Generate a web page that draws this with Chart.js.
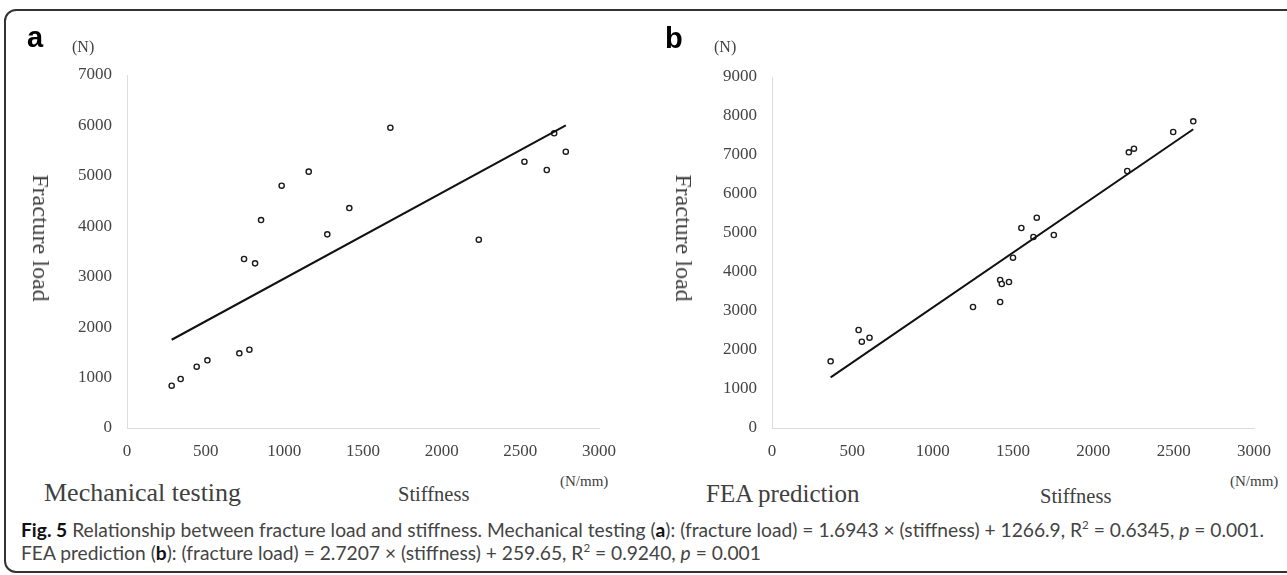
<!DOCTYPE html>
<html>
<head>
<meta charset="utf-8">
<script src="https://cdn.jsdelivr.net/npm/chart.js@4.4.1/dist/chart.umd.min.js"></script>
<style>
  html, body { margin: 0; padding: 0; background: #fff; }
  #page { position: relative; width: 1287px; height: 575px; overflow: hidden; background: #fff; }
  .frame { position: absolute; left: 4px; top: 9px; width: 1330px; height: 564px; border: 2px solid #333; border-radius: 12px; box-sizing: border-box; }
  canvas { position: absolute; top: 0; }
  .t { position: absolute; white-space: nowrap; line-height: 1; font-family: "Liberation Serif", "Times New Roman", serif; color: #404040; }
  .panel { font-family: "Liberation Sans", Arial, sans-serif; font-weight: bold; color: #000; font-size: 29px; }
  .rot { transform: translate(-50%, -50%) rotate(90deg); }
  .cap { position: absolute; left: 21px; white-space: nowrap; line-height: 1; font-family: Lato, "Open Sans", sans-serif; font-size: 18.5px; color: #444; transform-origin: left center; }
  .cap b { color: #111; }
  .cap sup { font-size: 0.6em; vertical-align: 0; position: relative; top: -0.75em; }
</style>
</head>
<body>
<div id="page">
  <div class="frame"></div>
  <canvas id="chartA" width="640" height="470" style="left:0"></canvas>
  <canvas id="chartB" width="647" height="470" style="left:640px"></canvas>

  <div class="t panel" style="left:27px; top:23px">a</div>
  <div class="t" style="left:72px; top:39px; font-size:16px">(N)</div>
  <div class="t rot" style="left:41px; top:238px; font-size:24px">Fracture load</div>
  <div class="t" style="left:44px; top:480px; font-size:26px">Mechanical testing</div>
  <div class="t" style="left:398px; top:484px; font-size:20.5px">Stiffness</div>
  <div class="t" style="left:560px; top:474px; font-size:15px">(N/mm)</div>

  <div class="t panel" style="left:665px; top:24px">b</div>
  <div class="t" style="left:714px; top:39px; font-size:16px">(N)</div>
  <div class="t rot" style="left:684px; top:238px; font-size:24px">Fracture load</div>
  <div class="t" style="left:706px; top:481px; font-size:25px">FEA prediction</div>
  <div class="t" style="left:1040px; top:486px; font-size:20.5px">Stiffness</div>
  <div class="t" style="left:1230px; top:474px; font-size:15px">(N/mm)</div>

  <div class="cap" id="cap1" style="top:521px"><b>Fig. 5</b> Relationship between fracture load and stiffness. Mechanical testing (<b>a</b>): (fracture load) = 1.6943 × (stiffness) + 1266.9, R<sup>2</sup> = 0.6345, <i>p</i> = 0.001.</div>
  <div class="cap" id="cap2" style="top:544px">FEA prediction (<b>b</b>): (fracture load) = 2.7207 × (stiffness) + 259.65, R<sup>2</sup> = 0.9240, <i>p</i> = 0.001</div>
</div>

<script>
// (a) mechanical testing
const mechStiffness = [284, 341, 443, 511, 714, 778, 744, 814, 852, 983, 1155, 1273, 1413, 1674, 2236, 2526, 2668, 2715, 2789];
const mechLoad = [839, 972, 1216, 1342, 1481, 1553, 3351, 3265, 4124, 4805, 5083, 3840, 4362, 5955, 3734, 5281, 5116, 5844, 5479];
const mechTrendStiffness = [284, 2789];
const mechTrendLoad = [1750, 6000];

// (b) FEA prediction
const feaStiffness = [365, 539, 559, 607, 1251, 1420, 1420, 1430, 1475, 1500, 1552, 1627, 1648, 1754, 2211, 2221, 2253, 2497, 2622];
const feaLoad = [1710, 2513, 2213, 2315, 3103, 3231, 3795, 3692, 3744, 4367, 5128, 4897, 5392, 4949, 6590, 7069, 7162, 7590, 7864];
const feaTrendStiffness = [365, 2622];
const feaTrendLoad = [1300, 7660];

const xTicks = [0, 500, 1000, 1500, 2000, 2500, 3000];
const mechYMax = 7000;
const feaYMax = 9000;

const tickFont = { family: "'Liberation Serif', 'Times New Roman', serif", size: 17 };

function toPoints(xs, ys) {
  return xs.map((x, i) => ({ x: x, y: ys[i] }));
}

function makeChart(id, xs, ys, tx, ty, yMax, yWidth, padding) {
  const ctx = document.getElementById(id).getContext('2d');
  return new Chart(ctx, {
    type: 'scatter',
    data: {
      datasets: [{
        data: toPoints(tx, ty),
        showLine: true,
        borderColor: '#111',
        borderWidth: 2,
        pointRadius: 0
      }, {
        data: toPoints(xs, ys),
        showLine: false,
        pointStyle: 'circle',
        pointRadius: 2.6,
        pointBorderWidth: 1.4,
        pointBorderColor: '#1a1a1a',
        pointBackgroundColor: '#fff'
      }]
    },
    options: {
      responsive: false,
      animation: false,
      layout: { padding: padding },
      plugins: { legend: { display: false }, tooltip: { enabled: false } },
      scales: {
        x: {
          type: 'linear',
          min: xTicks[0],
          max: xTicks[xTicks.length - 1],
          afterBuildTicks: s => { s.ticks = xTicks.map(v => ({ value: v })); },
          afterFit: s => { s.height = 42; },
          ticks: { font: tickFont, color: '#444', padding: 13, maxRotation: 0, callback: v => String(v) },
          grid: { display: false, drawTicks: false },
          border: { display: true, color: '#dcdcdc', width: 1 }
        },
        y: {
          min: 0,
          max: yMax,
          afterFit: s => { s.width = yWidth; },
          ticks: { stepSize: 1000, font: tickFont, color: '#444', padding: 15, callback: v => String(v) },
          grid: { display: false, drawTicks: false },
          border: { display: true, color: '#dcdcdc', width: 1 }
        }
      }
    }
  });
}

makeChart('chartA', mechStiffness, mechLoad, mechTrendStiffness, mechTrendLoad, mechYMax, 127,
  { left: 0, top: 75, right: 41, bottom: 0 });
makeChart('chartB', feaStiffness, feaLoad, feaTrendStiffness, feaTrendLoad, feaYMax, 132,
  { left: 0, top: 77, right: 33, bottom: 0 });

// squeeze caption to the width of the reference
const cap1 = document.getElementById('cap1');
const cap2 = document.getElementById('cap2');
const k = 1243 / cap1.getBoundingClientRect().width;
cap1.style.transform = 'scaleX(' + k + ')';
cap2.style.transform = 'scaleX(' + k + ')';
</script>
</body>
</html>
